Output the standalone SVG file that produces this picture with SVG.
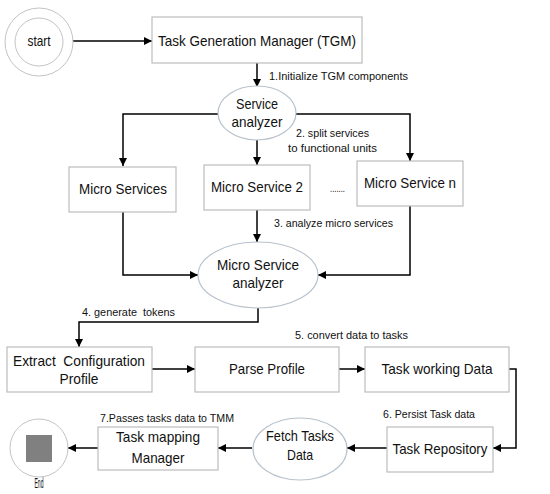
<svg xmlns="http://www.w3.org/2000/svg" width="550" height="494" viewBox="0 0 550 494">
<defs>
<marker id="ah" markerUnits="userSpaceOnUse" markerWidth="9" markerHeight="8" refX="8" refY="4" orient="auto">
<path d="M0,0 L8,4 L0,8 Z" fill="#000"/>
</marker>
<style>
.box{fill:#fff;stroke:#bdbdbd;stroke-width:1.2}
.ell{fill:#fff;stroke:#b8c2cc;stroke-width:1.2}
.circ{fill:#fff;stroke:#c4c4c4;stroke-width:1}
.t{font-family:"Liberation Sans",Arial,sans-serif;font-size:15px;fill:#111;text-anchor:middle;white-space:pre}
.s{font-family:"Liberation Sans",Arial,sans-serif;font-size:11px;fill:#111;white-space:pre}
.c{fill:none;stroke:#000;stroke-width:1.5;marker-end:url(#ah)}
</style>
</defs>
<rect width="550" height="494" fill="#fff"/>

<g id="connectors">
<path class="c" d="M72,41 H152"/>
<path class="c" d="M257,63 V87"/>
<path class="c" d="M218,114 H123 V166"/>
<path class="c" d="M257,140 V165"/>
<path class="c" d="M296,114 H410 V161"/>
<path class="c" d="M123,212 V275 H198"/>
<path class="c" d="M257,210 V242"/>
<path class="c" d="M410,206 V275 H318"/>
<path class="c" d="M258,308 V322 H79 V347"/>
<path class="c" d="M152,369 H195"/>
<path class="c" d="M339,369 H365"/>
<path class="c" d="M509,369 H516 V448 H493"/>
<path class="c" d="M387,448 H347"/>
<path class="c" d="M252,448 H218"/>
<path class="c" d="M98,448 H68"/>
</g>

<g id="labels">
<text class="s" x="269" y="80" textLength="139" lengthAdjust="spacingAndGlyphs">1.Initialize TGM components</text>
<text class="s" x="296" y="137" textLength="73" lengthAdjust="spacingAndGlyphs">2. split services</text>
<text class="s" x="288" y="152" textLength="89" lengthAdjust="spacingAndGlyphs">to functional units</text>
<text class="s" x="330" y="192" textLength="15" lengthAdjust="spacingAndGlyphs" font-size="7">.......</text>
<text class="s" x="274" y="227" textLength="119" lengthAdjust="spacingAndGlyphs">3. analyze micro services</text>
<text class="s" x="82" y="316" textLength="93" lengthAdjust="spacingAndGlyphs">4. generate  tokens</text>
<text class="s" x="295" y="339" textLength="113" lengthAdjust="spacingAndGlyphs">5. convert data to tasks</text>
<text class="s" x="383" y="418" textLength="92" lengthAdjust="spacingAndGlyphs">6. Persist Task data</text>
<text class="s" x="100" y="422" textLength="134" lengthAdjust="spacingAndGlyphs">7.Passes tasks data to TMM</text>
</g>

<g id="start">
<circle class="circ" cx="39" cy="42" r="34"/>
<circle class="circ" cx="39" cy="42" r="24"/>
<text class="t" x="39" y="46" font-size="12" textLength="23" lengthAdjust="spacingAndGlyphs">start</text>
</g>

<g id="tgm">
<rect class="box" x="152" y="17" width="210" height="46"/>
<text class="t" x="257" y="46" textLength="198" lengthAdjust="spacingAndGlyphs">Task Generation Manager (TGM)</text>
</g>

<g id="service-analyzer">
<ellipse class="ell" cx="257" cy="113" rx="39" ry="27"/>
<text class="t" x="257" y="109" textLength="42" lengthAdjust="spacingAndGlyphs">Service</text>
<text class="t" x="257" y="127" textLength="51" lengthAdjust="spacingAndGlyphs">analyzer</text>
</g>

<g id="micro-services">
<rect class="box" x="69" y="167" width="107" height="45"/>
<text class="t" x="123" y="194" textLength="88" lengthAdjust="spacingAndGlyphs">Micro Services</text>
</g>

<g id="micro-service-2">
<rect class="box" x="204" y="165" width="106" height="45"/>
<text class="t" x="257" y="192" textLength="92" lengthAdjust="spacingAndGlyphs">Micro Service 2</text>
</g>

<g id="micro-service-n">
<rect class="box" x="357" y="161" width="106" height="45"/>
<text class="t" x="410" y="188" textLength="92" lengthAdjust="spacingAndGlyphs">Micro Service n</text>
</g>

<g id="micro-service-analyzer">
<ellipse class="ell" cx="258" cy="275" rx="60" ry="33"/>
<text class="t" x="258" y="270" textLength="82" lengthAdjust="spacingAndGlyphs">Micro Service</text>
<text class="t" x="258" y="288" textLength="51" lengthAdjust="spacingAndGlyphs">analyzer</text>
</g>

<g id="extract-profile">
<rect class="box" x="7" y="347" width="145" height="45"/>
<text class="t" x="79" y="366" textLength="132" lengthAdjust="spacingAndGlyphs">Extract  Configuration</text>
<text class="t" x="79" y="384" textLength="39" lengthAdjust="spacingAndGlyphs">Profile</text>
</g>

<g id="parse-profile">
<rect class="box" x="195" y="347" width="144" height="45"/>
<text class="t" x="267" y="374" textLength="76" lengthAdjust="spacingAndGlyphs">Parse Profile</text>
</g>

<g id="task-working-data">
<rect class="box" x="365" y="347" width="144" height="45"/>
<text class="t" x="437" y="374" textLength="111" lengthAdjust="spacingAndGlyphs">Task working Data</text>
</g>

<g id="task-repository">
<rect class="box" x="387" y="427" width="106" height="45"/>
<text class="t" x="440" y="454" textLength="95" lengthAdjust="spacingAndGlyphs">Task Repository</text>
</g>

<g id="fetch-tasks-data">
<ellipse class="ell" cx="300" cy="449" rx="47" ry="31"/>
<text class="t" x="300" y="441" textLength="68" lengthAdjust="spacingAndGlyphs">Fetch Tasks</text>
<text class="t" x="300" y="460" textLength="26" lengthAdjust="spacingAndGlyphs">Data</text>
</g>

<g id="task-mapping-manager">
<rect class="box" x="98" y="427" width="120" height="43"/>
<text class="t" x="158" y="442" textLength="84" lengthAdjust="spacingAndGlyphs">Task mapping</text>
<text class="t" x="158" y="463" textLength="53" lengthAdjust="spacingAndGlyphs">Manager</text>
</g>

<g id="end">
<circle class="circ" cx="39" cy="448" r="29"/>
<rect x="26" y="435" width="26" height="27" fill="#808080"/>
<text class="t" x="39" y="488" font-size="7.5" textLength="9" lengthAdjust="spacingAndGlyphs">End</text>
</g>
</svg>
